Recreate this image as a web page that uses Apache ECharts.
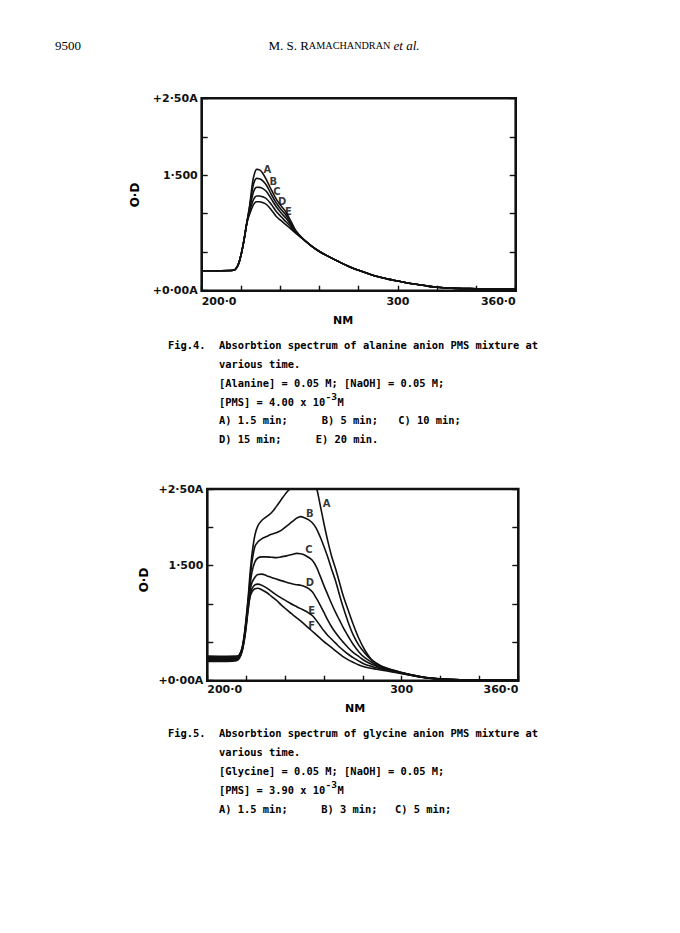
<!DOCTYPE html>
<html><head><meta charset="utf-8">
<script src="https://cdn.jsdelivr.net/npm/echarts@6/dist/echarts.min.js"></script>
<style>html,body{margin:0;padding:0;background:#fff}#c{width:680px;height:933px}</style>
</head><body><div id="c"></div>
<script>
// ---------- Fig.4 data (alanine) ----------
const wl4 = [200, 210, 215, 217, 218.5, 220, 221.5, 223, 224.5, 226, 227, 228, 229.5, 231, 233, 235.5, 238, 240.5, 243, 245.5, 248, 252, 256, 260, 265, 270, 275, 280, 285, 290, 295, 300, 305, 310, 315, 320, 330, 340, 350, 360];
const fig4A = [0.26, 0.26, 0.262, 0.275, 0.33, 0.46, 0.65, 0.88, 1.12, 1.42, 1.53, 1.577, 1.57, 1.53, 1.44, 1.31, 1.19, 1.10, 1.02, 0.90, 0.78, 0.665, 0.58, 0.51, 0.44, 0.375, 0.315, 0.265, 0.22, 0.18, 0.15, 0.125, 0.10, 0.08, 0.06, 0.045, 0.03, 0.025, 0.02, 0.02];
const fig4B = [0.26, 0.26, 0.262, 0.275, 0.33, 0.46, 0.65, 0.88, 1.10, 1.34, 1.43, 1.46, 1.455, 1.43, 1.37, 1.25, 1.14, 1.055, 0.98, 0.87, 0.77, 0.665, 0.58, 0.51, 0.44, 0.375, 0.315, 0.265, 0.22, 0.18, 0.15, 0.125, 0.10, 0.08, 0.06, 0.045, 0.03, 0.025, 0.02, 0.02];
const fig4C = [0.26, 0.26, 0.262, 0.275, 0.33, 0.46, 0.65, 0.88, 1.07, 1.25, 1.32, 1.345, 1.343, 1.33, 1.29, 1.19, 1.09, 1.01, 0.94, 0.85, 0.76, 0.665, 0.58, 0.51, 0.44, 0.375, 0.315, 0.265, 0.22, 0.18, 0.15, 0.125, 0.10, 0.08, 0.06, 0.045, 0.03, 0.025, 0.02, 0.02];
const fig4D = [0.26, 0.26, 0.262, 0.275, 0.33, 0.46, 0.65, 0.88, 1.04, 1.16, 1.21, 1.23, 1.23, 1.22, 1.195, 1.12, 1.03, 0.96, 0.895, 0.825, 0.75, 0.665, 0.58, 0.51, 0.44, 0.375, 0.315, 0.265, 0.22, 0.18, 0.15, 0.125, 0.10, 0.08, 0.06, 0.045, 0.03, 0.025, 0.02, 0.02];
const fig4E = [0.26, 0.26, 0.262, 0.275, 0.33, 0.46, 0.65, 0.88, 1.00, 1.10, 1.14, 1.155, 1.155, 1.145, 1.12, 1.05, 0.965, 0.91, 0.855, 0.80, 0.745, 0.665, 0.58, 0.51, 0.44, 0.375, 0.315, 0.265, 0.22, 0.18, 0.15, 0.125, 0.10, 0.08, 0.06, 0.045, 0.03, 0.025, 0.02, 0.02];
const fig4Names = ['A', 'B', 'C', 'D', 'E'];
const fig4LabelX = [233.5, 236.5, 238.3, 241.0, 244.2];
const fig4LabelY = [1.57, 1.42, 1.29, 1.156, 1.035];

// ---------- Fig.5 data (glycine) ----------
const wl5 = [200, 210, 215, 216.5, 218, 219.5, 221, 222, 223, 224.5, 226, 228, 230.5, 233, 235.5, 238, 240, 242, 244, 246, 248, 250, 252, 254, 256, 258, 260, 262, 264, 266, 268, 270, 272.5, 275, 278, 281, 284, 287, 290, 295, 300, 305, 310, 315, 320, 330, 340, 350, 360];
const fig5A = [0.32, 0.318, 0.32, 0.34, 0.44, 0.70, 1.08, 1.40, 1.65, 1.90, 2.02, 2.09, 2.14, 2.19, 2.27, 2.36, 2.43, 2.49, 2.55, 2.60, 2.64, 2.66, 2.66, 2.63, 2.53, 2.30, 2.05, 1.82, 1.62, 1.46, 1.28, 1.10, 0.92, 0.74, 0.55, 0.40, 0.29, 0.228, 0.185, 0.142, 0.108, 0.078, 0.052, 0.035, 0.024, 0.013, 0.01, 0.008, 0.008];
const fig5B = [0.305, 0.303, 0.305, 0.33, 0.43, 0.68, 1.04, 1.32, 1.55, 1.75, 1.81, 1.85, 1.88, 1.91, 1.93, 1.96, 2.00, 2.04, 2.08, 2.12, 2.14, 2.125, 2.10, 2.06, 1.99, 1.88, 1.75, 1.61, 1.45, 1.30, 1.12, 0.95, 0.76, 0.60, 0.46, 0.36, 0.28, 0.225, 0.182, 0.14, 0.106, 0.076, 0.051, 0.034, 0.023, 0.013, 0.01, 0.008, 0.008];
const fig5C = [0.29, 0.288, 0.29, 0.32, 0.42, 0.66, 1.00, 1.24, 1.42, 1.55, 1.60, 1.615, 1.615, 1.61, 1.605, 1.615, 1.625, 1.635, 1.65, 1.66, 1.655, 1.64, 1.61, 1.57, 1.49, 1.37, 1.24, 1.12, 1.00, 0.89, 0.79, 0.69, 0.58, 0.475, 0.375, 0.30, 0.25, 0.205, 0.168, 0.135, 0.103, 0.074, 0.05, 0.033, 0.022, 0.012, 0.01, 0.008, 0.008];
const fig5D = [0.28, 0.278, 0.28, 0.31, 0.41, 0.64, 0.97, 1.17, 1.28, 1.35, 1.385, 1.39, 1.37, 1.345, 1.325, 1.305, 1.29, 1.275, 1.262, 1.252, 1.245, 1.23, 1.205, 1.16, 1.08, 0.99, 0.89, 0.79, 0.70, 0.625, 0.56, 0.50, 0.43, 0.37, 0.315, 0.26, 0.22, 0.19, 0.16, 0.13, 0.10, 0.072, 0.049, 0.032, 0.021, 0.012, 0.01, 0.008, 0.008];
const fig5E = [0.265, 0.263, 0.27, 0.30, 0.40, 0.62, 0.94, 1.12, 1.20, 1.25, 1.26, 1.245, 1.21, 1.165, 1.12, 1.08, 1.05, 1.02, 0.99, 0.965, 0.94, 0.915, 0.885, 0.85, 0.79, 0.72, 0.65, 0.59, 0.54, 0.49, 0.44, 0.395, 0.345, 0.30, 0.255, 0.215, 0.19, 0.17, 0.15, 0.125, 0.097, 0.07, 0.048, 0.031, 0.021, 0.012, 0.01, 0.008, 0.008];
const fig5F = [0.25, 0.25, 0.26, 0.29, 0.39, 0.60, 0.92, 1.09, 1.16, 1.20, 1.205, 1.185, 1.15, 1.10, 1.05, 0.99, 0.945, 0.90, 0.86, 0.82, 0.78, 0.735, 0.69, 0.645, 0.60, 0.555, 0.51, 0.47, 0.43, 0.39, 0.35, 0.31, 0.272, 0.24, 0.205, 0.18, 0.163, 0.15, 0.137, 0.115, 0.092, 0.067, 0.046, 0.03, 0.02, 0.011, 0.009, 0.008, 0.008];
const fig5Names = ['A', 'B', 'C', 'D', 'E', 'F'];
const fig5LabelX = [261.4, 252.8, 252.3, 252.8, 253.7, 253.7];
const fig5LabelY = [2.31, 2.18, 1.71, 1.28, 0.92, 0.726];

// ---------- tick labels ----------
const xTickValues = [200, 300, 360];
const xTickTexts4 = ['200·0', '300', '360·0'];
const xTickTexts5 = ['200·0', '300', '360·0'];
const yTickValues = [0, 1.5, 2.5];
const yTickTexts = ['+0·00A', '1·500', '+2·50A'];

// ---------- build ----------
const pairs = (xs, ys) => xs.map((x, i) => [x, ys[i]]);
const INK = '#111';
const AXFONT = 'DejaVu Sans';
const MONO = 'DejaVu Sans Mono';

function xAxisFor(gi, texts, margin) {
  return {
    type: 'value', gridIndex: gi, min: 200, max: 360, interval: 20,
    axisLine: { show: false },
    axisTick: { show: true, inside: true, length: 5, lineStyle: { color: INK, width: 1.4 } },
    splitLine: { show: false },
    axisLabel: {
      margin: margin, color: INK, fontFamily: AXFONT, fontWeight: 'bold', fontSize: 11,
      showMinLabel: true, showMaxLabel: true, alignMinLabel: 'left', alignMaxLabel: 'right',
      formatter: v => { const k = xTickValues.indexOf(Math.round(v)); return k >= 0 ? texts[k] : ''; }
    }
  };
}
function yAxisFor(gi, pos, showLabels) {
  return {
    type: 'value', gridIndex: gi, position: pos, min: 0, max: 2.5, interval: 0.5,
    axisLine: { show: false },
    axisTick: { show: true, inside: true, length: 6, lineStyle: { color: INK, width: 1.4 } },
    splitLine: { show: false },
    axisLabel: {
      show: showLabels, margin: 4, color: INK, fontFamily: AXFONT, fontWeight: 'bold', fontSize: 11,
      formatter: v => { const k = yTickValues.findIndex(t => Math.abs(t - v) < 1e-6); return k >= 0 ? yTickTexts[k] : ''; }
    }
  };
}
function curve(name, xs, ys, xi, yi) {
  return {
    name: name, type: 'line', xAxisIndex: xi, yAxisIndex: yi, data: pairs(xs, ys),
    showSymbol: false, smooth: 0.35, clip: true, silent: true,
    lineStyle: { color: INK, width: 1.6 }
  };
}
function labelSeries(names, lx, ly, xi, yi) {
  return {
    type: 'scatter', xAxisIndex: xi, yAxisIndex: yi, symbolSize: 1, silent: true,
    itemStyle: { color: 'rgba(0,0,0,0)' },
    data: names.map((n, i) => ({ name: n, value: [lx[i], ly[i]] })),
    label: { show: true, position: 'inside', formatter: p => p.name, color: '#000',
             fontFamily: AXFONT, fontWeight: 'bold', fontSize: 10 }
  };
}

const series = [];
[fig4A, fig4B, fig4C, fig4D, fig4E].forEach((d, i) => series.push(curve('4' + fig4Names[i], wl4, d, 0, 0)));
series.push(labelSeries(fig4Names, fig4LabelX, fig4LabelY, 0, 0));
[fig5A, fig5B, fig5C, fig5D, fig5E, fig5F].forEach((d, i) => series.push(curve('5' + fig5Names[i], wl5, d, 1, 2)));
series.push(labelSeries(fig5Names, fig5LabelX, fig5LabelY, 1, 2));

function txt(s, x, y, opts) {
  return Object.assign({ type: 'text', x: x, y: y, silent: true,
    style: Object.assign({ text: s, fill: '#000', align: 'left', verticalAlign: 'middle',
      fontFamily: MONO, fontWeight: 'bold', fontSize: 10.4 }, (opts && opts.style) || {}) },
    (opts && opts.extra) || {});
}

const graphics = [
  txt('9500', 55, 45, { style: { fontFamily: 'Liberation Serif', fontWeight: 'normal', fontSize: 13 } }),
  { type: 'text', x: 344, y: 45, silent: true,
    style: { text: '{a|M. S. R}{b|AMACHANDRAN}{c| et al.}', align: 'center', verticalAlign: 'middle', fill: '#000',
      rich: { a: { fontFamily: 'Liberation Serif', fontSize: 13, fill: '#000' },
              b: { fontFamily: 'Liberation Serif', fontSize: 10.2, fill: '#000' },
              c: { fontFamily: 'Liberation Serif', fontSize: 13, fontStyle: 'italic', fill: '#000' } } } },
  // axis titles
  txt('O·D', 134.5, 195, { style: { fontFamily: AXFONT, fontSize: 12, align: 'center' }, extra: { rotation: Math.PI / 2 } }),
  txt('NM', 343, 320, { style: { fontFamily: AXFONT, fontSize: 11, align: 'center' } }),
  txt('O·D', 143.5, 580, { style: { fontFamily: AXFONT, fontSize: 12, align: 'center' }, extra: { rotation: Math.PI / 2 } }),
  txt('NM', 355, 708, { style: { fontFamily: AXFONT, fontSize: 11, align: 'center' } }),
  // Fig.4 caption
  txt('Fig.4.', 168, 345),
  txt('Absorbtion spectrum of alanine anion PMS mixture at', 219, 345),
  txt('various time.', 219, 363.5),
  txt('[Alanine] = 0.05 M; [NaOH] = 0.05 M;', 219, 382.5),
  txt('[PMS] = 4.00 x 10', 219, 402),
  txt('-3', 325.5, 396, { style: { fontSize: 9.5 } }),
  txt('M', 337.5, 402),
  txt('A) 1.5 min;', 219, 420),
  txt('B) 5 min;', 321.7, 420),
  txt('C) 10 min;', 398.3, 420),
  txt('D) 15 min;', 219, 438.5),
  txt('E) 20 min.', 315.7, 438.5),
  // Fig.5 caption
  txt('Fig.5.', 168, 732.7),
  txt('Absorbtion spectrum of glycine anion PMS mixture at', 219, 732.7),
  txt('various time.', 219, 751.7),
  txt('[Glycine] = 0.05 M; [NaOH] = 0.05 M;', 219, 770.5),
  txt('[PMS] = 3.90 x 10', 219, 790),
  txt('-3', 325.5, 784, { style: { fontSize: 9.5 } }),
  txt('M', 337.5, 790),
  txt('A) 1.5 min;', 219, 809.3),
  txt('B) 3 min;', 321.3, 809.3),
  txt('C) 5 min;', 395, 809.3)
];

const chart = echarts.init(document.getElementById('c'), null, { renderer: 'svg', width: 680, height: 933 });
chart.setOption({
  backgroundColor: '#fff',
  animation: false,
  grid: [
    { left: 201.7, top: 98.3, width: 314, height: 192.4, show: true, borderColor: INK, borderWidth: 2.6, containLabel: false },
    { left: 207.3, top: 489, width: 311, height: 191.7, show: true, borderColor: INK, borderWidth: 2.6, containLabel: false }
  ],
  xAxis: [xAxisFor(0, xTickTexts4, 5), xAxisFor(1, xTickTexts5, 3)],
  yAxis: [yAxisFor(0, 'left', true), yAxisFor(0, 'right', false), yAxisFor(1, 'left', true), yAxisFor(1, 'right', false)],
  series: series,
  graphic: graphics
});
</script>
</body></html>
